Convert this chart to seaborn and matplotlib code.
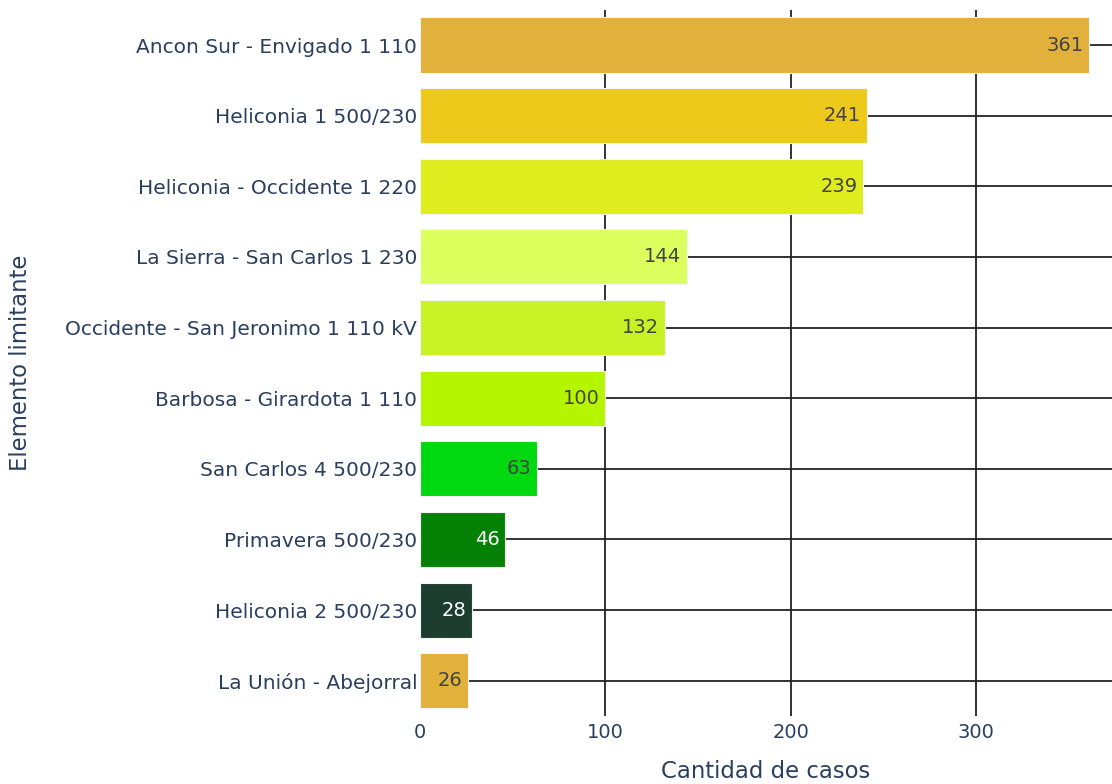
import matplotlib
matplotlib.use("Agg")
import matplotlib.pyplot as plt
import seaborn as sns
import pandas as pd

categories = [
    "Ancon Sur - Envigado 1 110",
    "Heliconia 1 500/230",
    "Heliconia - Occidente 1 220",
    "La Sierra - San Carlos 1 230",
    "Occidente - San Jeronimo 1 110 kV",
    "Barbosa - Girardota 1 110",
    "San Carlos 4 500/230",
    "Primavera 500/230",
    "Heliconia 2 500/230",
    "La Unión - Abejorral",
]
values = [361, 241, 239, 144, 132, 100, 63, 46, 28, 26]
colors = ["#E2B13C", "#EDC91B", "#DFEC1E", "#DDFF5E", "#C8F226",
          "#B5F500", "#00D810", "#058205", "#1C3D30", "#E2B13C"]
label_colors = ["#444444"] * 7 + ["white", "white", "#444444"]
x_ticks = [0, 100, 200, 300]

sns.set_style("white")
plt.rcParams["font.family"] = ["DejaVu Sans"]

df = pd.DataFrame({"Elemento limitante": categories, "Cantidad de casos": values})

fig = plt.figure(figsize=(11.12, 7.84), dpi=100)
ax = fig.add_axes([420 / 1112, 1 - 716 / 784, 1 - 420 / 1112, (716 - 9.7) / 784])

sns.barplot(data=df, y="Elemento limitante", x="Cantidad de casos",
            hue="Elemento limitante", palette=colors, legend=False,
            saturation=1, orient="h", width=0.78, ax=ax,
            edgecolor="#f4f4f4", linewidth=0.8, zorder=3)

ax.set_xlim(0, 373.4)
ax.set_ylim(len(categories) - 0.5, -0.5)
ax.set_xticks(x_ticks)
ax.set_axisbelow(True)
ax.grid(True, axis="both", color="#222222", linewidth=1.3, zorder=0)
ax.xaxis.get_gridlines()[0].set_visible(False)
for s in ax.spines.values():
    s.set_visible(False)

ax.tick_params(axis="both", length=0, labelcolor="#2a3f5f")
ax.tick_params(axis="y", labelsize=14.5, pad=2)
ax.tick_params(axis="x", labelsize=14, pad=5)
ax.set_xlabel("Cantidad de casos", fontsize=16.4, color="#2a3f5f", labelpad=13)
ax.set_ylabel("Elemento limitante", fontsize=16.4, color="#2a3f5f")
ax.yaxis.set_label_coords(-0.5607, 0.5)

for container in ax.containers:
    for bar in container:
        idx = int(round(bar.get_y() + bar.get_height() / 2))
        ax.annotate(str(values[idx]), xy=(bar.get_width(), idx),
                    xytext=(-4, 0), textcoords="offset points",
                    ha="right", va="center", fontsize=14,
                    color=label_colors[idx], zorder=5)

fig.savefig("out.png", dpi=100)
